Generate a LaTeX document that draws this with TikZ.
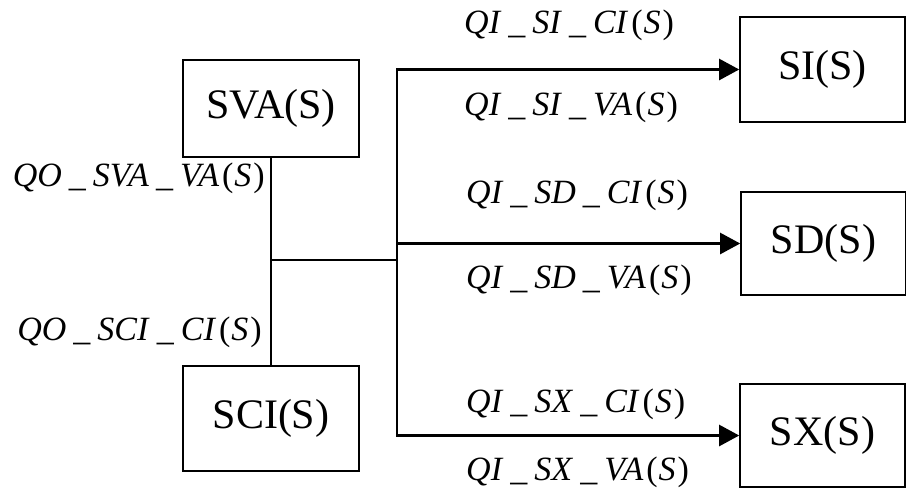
\documentclass[tikz,border=0pt]{standalone}
\usepackage{fontspec}
\setmainfont{Liberation Serif}
\usetikzlibrary{arrows.meta}

\tikzset{
  blk/.style={draw,line width=1.6pt,inner sep=0pt,font=\fontsize{42}{42}\selectfont},
  lbl/.style={inner sep=0pt,font=\fontsize{34}{34}\selectfont},
  feed/.style={line width=2.4pt,-{Triangle[length=20pt,width=21pt]}}
}
\newcommand{\qn}[3]{\textit{#1}\kern7pt\_\kern7pt\textit{#2}\kern7pt\_\kern7pt\textit{#3}\kern3pt(\kern1pt\textit{S}\kern2pt)}

\begin{document}
\begin{tikzpicture}[x=1pt,y=-1pt]
            \useasboundingbox (0,0) rectangle (906,493);

            % source blocks
            \node[blk,minimum width=176pt,minimum height=97pt] (sva) at (271,108.5) {SVA(S)};
            \node[blk,minimum width=176pt,minimum height=105pt] (sci) at (271,418.5) {SCI(S)};

            % target blocks
            \node[blk,minimum width=165pt,minimum height=105pt] (si) at (822.5,69.5) {SI(S)};
            \node[blk,minimum width=165pt,minimum height=103pt] (sd) at (823.5,243.5) {SD(S)};
            \node[blk,minimum width=165pt,minimum height=103pt] (sx) at (822.5,435.5) {SX(S)};

            \coordinate (t) at (397,260);

            \draw[line width=1.6pt] (sva.south) -- (sci.north);
            \draw[line width=2.4pt] (sva.south |- t) -- (t);
            \draw[feed] (t) |- (si.west);
            \draw[feed] (t |- sd.west) -- (sd.west);
            \draw[feed] (t) |- (sx.west);

            % flow labels
            \node[lbl,anchor=east] (qosva) at (265,178) {\qn{QO}{SVA}{VA}};
            \node[lbl,anchor=east] (qosci) at (262,332) {\qn{QO}{SCI}{CI}};

            \node[lbl,anchor=west] (qisici) at (464,25) {\qn{QI}{SI}{CI}};
            \node[lbl,anchor=west] (qisiva) at (464,107) {\qn{QI}{SI}{VA}};
            \node[lbl,anchor=west] (qisdci) at (466,195) {\qn{QI}{SD}{CI}};
            \node[lbl,anchor=west] (qisdva) at (466,280) {\qn{QI}{SD}{VA}};
            \node[lbl,anchor=west] (qisxci) at (466,404) {\qn{QI}{SX}{CI}};
            \node[lbl,anchor=west] (qisxva) at (466,472) {\qn{QI}{SX}{VA}};

        \end{tikzpicture}
\end{document}
